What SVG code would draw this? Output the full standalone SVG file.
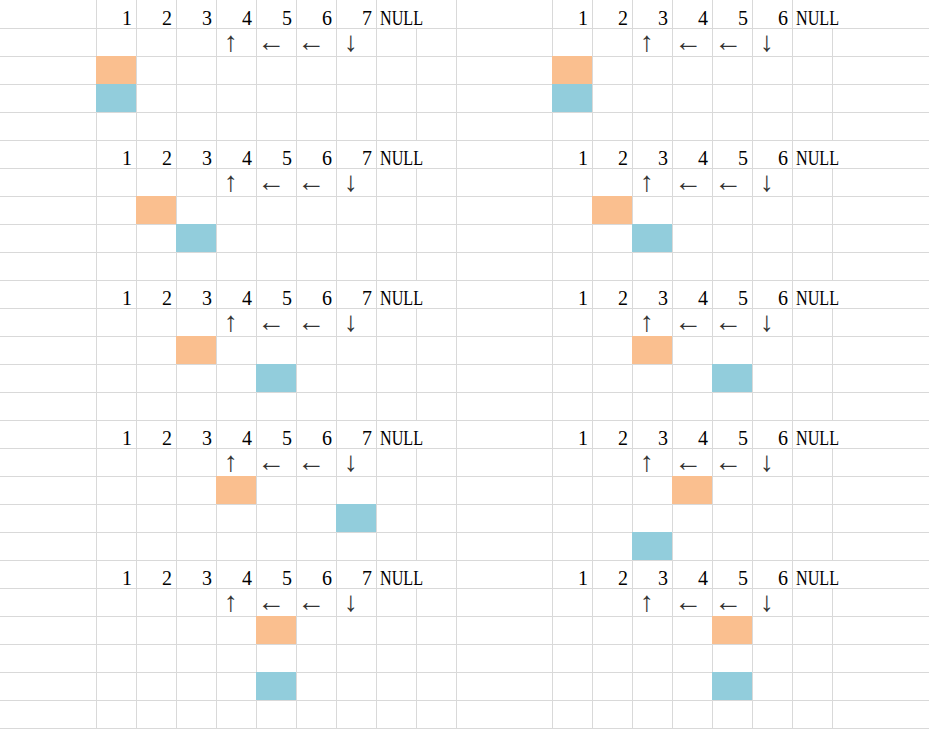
<svg xmlns="http://www.w3.org/2000/svg" width="929" height="729" viewBox="0 0 929 729">
<style>
.grid{stroke:#d9d9d9;stroke-width:1;fill:none}
.n{font-family:"Liberation Serif",serif;font-size:20px;fill:#000;text-anchor:end}
.null{font-family:"Liberation Serif",serif;font-size:20px;fill:#000}
.ar{font-family:"Liberation Serif",serif;font-size:28px;fill:#333;text-anchor:middle}
.o{fill:#FABF8F}
.b{fill:#92CDDC}
</style>
<rect width="929" height="729" fill="#fff"/>
<g id="grid">
<path class="grid" d="M0 28.5H929M0 56.5H929M0 84.5H929M0 112.5H929M0 140.5H929M0 168.5H929M0 196.5H929M0 224.5H929M0 252.5H929M0 280.5H929M0 308.5H929M0 336.5H929M0 364.5H929M0 392.5H929M0 420.5H929M0 448.5H929M0 476.5H929M0 504.5H929M0 532.5H929M0 560.5H929M0 588.5H929M0 616.5H929M0 644.5H929M0 672.5H929M0 700.5H929M0 728.5H929"/>
<path class="grid" d="M96.5 0V729M136.5 0V729M176.5 0V729M216.5 0V729M256.5 0V729M296.5 0V729M336.5 0V729M376.5 0V729M456.5 0V729M552.5 0V729M592.5 0V729M632.5 0V729M672.5 0V729M712.5 0V729M752.5 0V729M792.5 0V729"/>
<path class="grid" d="M416.5 28V140M416.5 168V280M416.5 308V420M416.5 448V560M416.5 588V729M832.5 28V140M832.5 168V280M832.5 308V420M832.5 448V560M832.5 588V729"/>
</g>
<g id="cells">
<rect class="o" x="96" y="56" width="40" height="28"/>
<rect class="b" x="96" y="84" width="40" height="28"/>
<rect class="o" x="136" y="196" width="40" height="28"/>
<rect class="b" x="176" y="224" width="40" height="28"/>
<rect class="o" x="176" y="336" width="40" height="28"/>
<rect class="b" x="256" y="364" width="40" height="28"/>
<rect class="o" x="216" y="476" width="40" height="28"/>
<rect class="b" x="336" y="504" width="40" height="28"/>
<rect class="o" x="256" y="616" width="40" height="28"/>
<rect class="b" x="256" y="672" width="40" height="28"/>
<rect class="o" x="552" y="56" width="40" height="28"/>
<rect class="b" x="552" y="84" width="40" height="28"/>
<rect class="o" x="592" y="196" width="40" height="28"/>
<rect class="b" x="632" y="224" width="40" height="28"/>
<rect class="o" x="632" y="336" width="40" height="28"/>
<rect class="b" x="712" y="364" width="40" height="28"/>
<rect class="o" x="672" y="476" width="40" height="28"/>
<rect class="b" x="632" y="532" width="40" height="28"/>
<rect class="o" x="712" y="616" width="40" height="28"/>
<rect class="b" x="712" y="672" width="40" height="28"/>
</g>
<defs>
<g id="hdrL">
<text class="n" x="132" y="25">1</text><text class="n" x="172" y="25">2</text><text class="n" x="212" y="25">3</text><text class="n" x="252" y="25">4</text><text class="n" x="292" y="25">5</text><text class="n" x="332" y="25">6</text><text class="n" x="372" y="25">7</text><text class="null" x="380" y="25" textLength="43" lengthAdjust="spacingAndGlyphs">NULL</text>
<text class="ar" x="231" y="51">↑</text><text class="ar" x="271" y="51">←</text><text class="ar" x="311" y="51">←</text><text class="ar" x="351" y="51">↓</text>
</g>
<g id="hdrR">
<text class="n" x="588" y="25">1</text><text class="n" x="628" y="25">2</text><text class="n" x="668" y="25">3</text><text class="n" x="708" y="25">4</text><text class="n" x="748" y="25">5</text><text class="n" x="788" y="25">6</text><text class="null" x="796" y="25" textLength="43" lengthAdjust="spacingAndGlyphs">NULL</text>
<text class="ar" x="647" y="51">↑</text><text class="ar" x="688" y="51">←</text><text class="ar" x="728" y="51">←</text><text class="ar" x="767" y="51">↓</text>
</g>
</defs>
<g id="left-panel">
<use href="#hdrL"/>
<use href="#hdrL" y="140"/>
<use href="#hdrL" y="280"/>
<use href="#hdrL" y="420"/>
<use href="#hdrL" y="560"/>
</g>
<g id="right-panel">
<use href="#hdrR"/>
<use href="#hdrR" y="140"/>
<use href="#hdrR" y="280"/>
<use href="#hdrR" y="420"/>
<use href="#hdrR" y="560"/>
</g>
</svg>
